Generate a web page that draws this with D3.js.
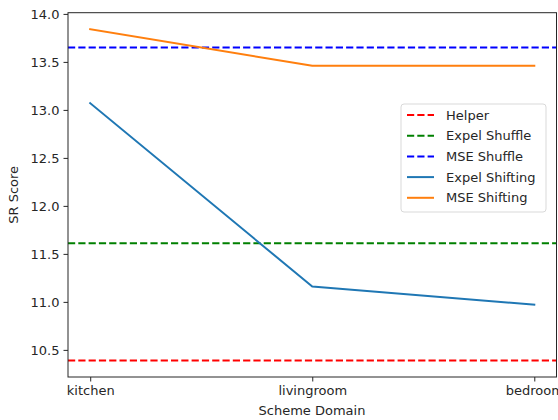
<!DOCTYPE html>
<html>
<head>
<meta charset="utf-8">
<script src="https://cdn.jsdelivr.net/npm/d3@7"></script>
<style>
  body { margin: 0; background: #fff; overflow: hidden; }
  svg text { font-family: "DejaVu Sans", sans-serif; fill: #262626; }
</style>
</head>
<body>
<div id="chart"></div>
<script>
// categories on the x axis
var domains = ['kitchen', 'livingroom', 'bedroom'];

// shifting series, one value per domain
var expelShifting = [13.07, 11.16, 10.97];
var mseShifting = [13.84, 13.46, 13.46];

// constant reference lines
var baselineNames = ['Helper', 'Expel Shuffle', 'MSE Shuffle'];
var baselineValues = [10.39, 11.61, 13.65];

var yTicks = [10.5, 11.0, 11.5, 12.0, 12.5, 13.0, 13.5, 14.0];

(function() {
  var W = 558, H = 420;
  // plot area; note 'top' is a reserved window global, so use plotTop
  var plotLeft = 68, plotRight = 556.5, plotTop = 12.7, plotBottom = 377;

  var svg = d3.select('#chart').append('svg')
      .attr('width', W)
      .attr('height', H);

  // matplotlib style 5% margins
  var x = d3.scaleLinear()
      .domain([-0.1, domains.length - 1 + 0.1])
      .range([plotLeft, plotRight]);

  var allVals = expelShifting.concat(mseShifting, baselineValues);
  var lo = d3.min(allVals), hi = d3.max(allVals), pad = (hi - lo) * 0.05;
  var y = d3.scaleLinear()
      .domain([lo - pad, hi + pad])
      .range([plotBottom, plotTop]);

  var plot = svg.append('g');

  var baseColors = ['#ff0000', '#008000', '#0000ff'];
  var dash = '7.2,3.1';

  // horizontal reference lines across the full axes
  plot.selectAll('line.base').data(baselineValues)
    .enter().append('line')
      .attr('class', 'base')
      .attr('x1', plotLeft)
      .attr('x2', plotRight)
      .attr('y1', function(d) { return y(d); })
      .attr('y2', function(d) { return y(d); })
      .attr('stroke', function(d, i) { return baseColors[i]; })
      .attr('stroke-width', 2)
      .attr('stroke-dasharray', dash);

  var line = d3.line()
      .x(function(d, i) { return x(i); })
      .y(function(d) { return y(d); });

  var series = [
    { values: expelShifting, color: '#1f77b4' },
    { values: mseShifting, color: '#ff7f0e' }
  ];

  plot.selectAll('path.series').data(series)
    .enter().append('path')
      .attr('class', 'series')
      .attr('d', function(s) { return line(s.values); })
      .attr('fill', 'none')
      .attr('stroke', function(s) { return s.color; })
      .attr('stroke-width', 2)
      .attr('stroke-linejoin', 'round')
      .attr('stroke-linecap', 'square');

  // axes
  var xAxis = d3.axisBottom(x)
      .tickValues(d3.range(domains.length))
      .tickFormat(function(i) { return domains[i]; })
      .tickSize(4.5)
      .tickPadding(4);
  var yAxis = d3.axisLeft(y)
      .tickValues(yTicks)
      .tickFormat(d3.format('.1f'))
      .tickSize(4.5)
      .tickPadding(4);

  var gx = svg.append('g')
      .attr('transform', 'translate(0,' + plotBottom + ')')
      .call(xAxis);
  var gy = svg.append('g')
      .attr('transform', 'translate(' + plotLeft + ',0)')
      .call(yAxis);

  [gx, gy].forEach(function(g) {
    g.select('.domain').remove();
    g.selectAll('line').attr('stroke', '#262626').attr('stroke-width', 1);
    g.selectAll('text').style('font-size', '13px').attr('fill', '#262626');
  });

  // frame
  svg.append('rect')
      .attr('x', plotLeft)
      .attr('y', plotTop)
      .attr('width', plotRight - plotLeft)
      .attr('height', plotBottom - plotTop)
      .attr('fill', 'none')
      .attr('stroke', '#262626')
      .attr('stroke-width', 1);

  svg.append('text')
      .attr('x', 312)
      .attr('y', 415)
      .attr('text-anchor', 'middle')
      .style('font-size', '13px')
      .text('Scheme Domain');

  svg.append('text')
      .attr('transform', 'translate(18,' + (plotTop + plotBottom) / 2 + ') rotate(-90)')
      .attr('text-anchor', 'middle')
      .style('font-size', '13px')
      .text('SR Score');

  // legend
  var legendItems = baselineNames.map(function(n, i) {
    return { name: n, color: baseColors[i], dashed: true };
  }).concat([
    { name: 'Expel Shifting', color: '#1f77b4', dashed: false },
    { name: 'MSE Shifting', color: '#ff7f0e', dashed: false }
  ]);

  var legend = svg.append('g').attr('transform', 'translate(401,104)');
  legend.append('rect')
      .attr('width', 145)
      .attr('height', 108)
      .attr('rx', 3)
      .attr('fill', '#fff')
      .attr('fill-opacity', 0.8)
      .attr('stroke', '#d9d9d9')
      .attr('stroke-width', 1);

  var rows = legend.selectAll('g.item').data(legendItems)
    .enter().append('g')
      .attr('class', 'item')
      .attr('transform', function(d, i) { return 'translate(0,' + (11 + i * 20.7) + ')'; });

  rows.append('line')
      .attr('x1', 6)
      .attr('x2', 33)
      .attr('stroke', function(d) { return d.color; })
      .attr('stroke-width', 2)
      .attr('stroke-dasharray', function(d) { return d.dashed ? dash : null; });

  rows.append('text')
      .attr('x', 45)
      .attr('dy', '0.35em')
      .style('font-size', '13px')
      .text(function(d) { return d.name; });
})();
</script>
</body>
</html>
